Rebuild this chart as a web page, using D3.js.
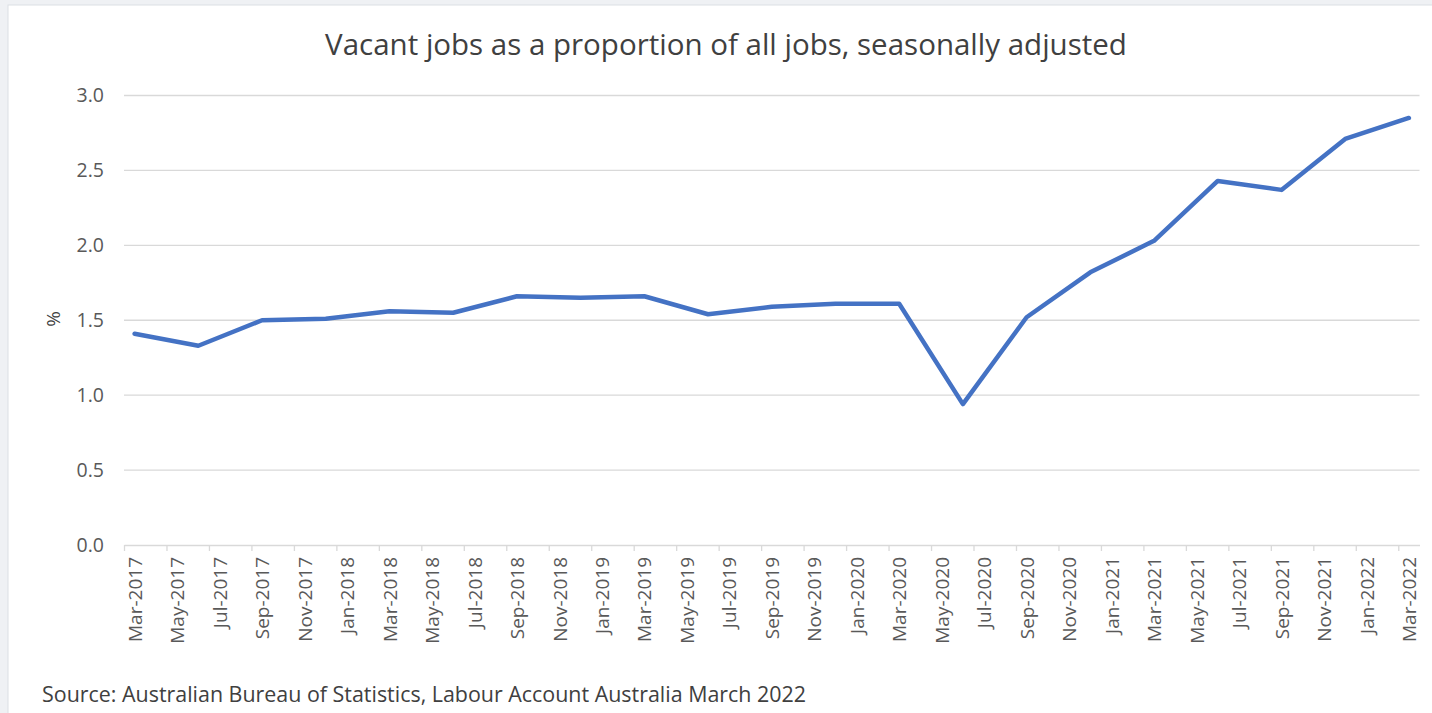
<!DOCTYPE html>
<html>
<head>
<meta charset="utf-8">
<script src="https://cdn.jsdelivr.net/npm/d3@7/dist/d3.min.js"></script>
<style>
  html, body { margin: 0; padding: 0; background: #eff1f4; }
  svg { display: block; }
</style>
</head>
<body>
<svg id="chart" width="1432" height="713"></svg>
<script>
// Quarterly observations (percent of all jobs that are vacant)
const quarters = ["Mar-2017","Jun-2017","Sep-2017","Dec-2017","Mar-2018","Jun-2018","Sep-2018","Dec-2018",
  "Mar-2019","Jun-2019","Sep-2019","Dec-2019","Mar-2020","Jun-2020","Sep-2020","Dec-2020",
  "Mar-2021","Jun-2021","Sep-2021","Dec-2021","Mar-2022"];
const vacancyRate = [1.41, 1.33, 1.50, 1.51, 1.56, 1.55, 1.66, 1.65,
  1.66, 1.54, 1.59, 1.61, 1.61, 0.94, 1.52, 1.82,
  2.03, 2.43, 2.37, 2.71, 2.85];

// Axis labels every second month
const monthLabels = ["Mar-2017","May-2017","Jul-2017","Sep-2017","Nov-2017","Jan-2018","Mar-2018","May-2018",
  "Jul-2018","Sep-2018","Nov-2018","Jan-2019","Mar-2019","May-2019","Jul-2019","Sep-2019","Nov-2019",
  "Jan-2020","Mar-2020","May-2020","Jul-2020","Sep-2020","Nov-2020","Jan-2021","Mar-2021","May-2021",
  "Jul-2021","Sep-2021","Nov-2021","Jan-2022","Mar-2022"];
const yTicks = [0, 0.5, 1.0, 1.5, 2.0, 2.5, 3.0];

const titleText = "Vacant jobs as a proportion of all jobs, seasonally adjusted";
const sourceText = "Source: Australian Bureau of Statistics, Labour Account Australia March 2022";

const monNames = ["Jan","Feb","Mar","Apr","May","Jun","Jul","Aug","Sep","Oct","Nov","Dec"];
// month offset from Mar-2017
function monthIndex(lbl) {
  const [m, y] = lbl.split("-");
  return (+y - 2017) * 12 + monNames.indexOf(m) - 2;
}
const totalMonths = monthIndex("Mar-2022") + 1;

const svg = d3.select("#chart");
const font = "'Open Sans', 'Noto Sans', sans-serif";
const textColor = "#595959";

// chart panel
svg.append("rect").attr("x", 8).attr("y", 5).attr("width", 1440).attr("height", 720)
  .attr("fill", "#ffffff").attr("stroke", "#dcdfe3").attr("stroke-width", 1);

const plot = { left: 124, right: 1419.5, top: 95.5, bottom: 545 };

const x = d3.scaleLinear().domain([0, totalMonths]).range([plot.left, plot.right]);
const y = d3.scaleLinear().domain([0, 3]).range([plot.bottom, plot.top]);

// horizontal gridlines
svg.append("g")
  .selectAll("line").data(yTicks.filter(d => d > 0)).join("line")
  .attr("x1", plot.left).attr("x2", plot.right)
  .attr("y1", d => y(d)).attr("y2", d => y(d))
  .attr("stroke", "#d9d9d9").attr("stroke-width", 1.3);

// y axis labels
const yAxis = d3.axisLeft(y).tickValues(yTicks).tickFormat(d3.format(".1f")).tickSize(0).tickPadding(20);
const gy = svg.append("g").attr("transform", `translate(${plot.left},0)`).call(yAxis);
gy.select(".domain").remove();
gy.selectAll("text").attr("font-family", font).attr("font-size", 19.5).attr("fill", textColor);

// x axis: ticks at month boundaries, labels centred on each month
const tickIdx = monthLabels.map(monthIndex);
const xAxis = d3.axisBottom(x).tickValues(tickIdx).tickFormat("").tickSize(6).tickSizeOuter(0);
const gx = svg.append("g").attr("transform", `translate(0,${plot.bottom})`).call(xAxis);
gx.select(".domain").attr("stroke", "#d9d9d9").attr("stroke-width", 1.3);
gx.selectAll(".tick line").attr("stroke", "#d9d9d9").attr("stroke-width", 1.3);

const xLab = d3.axisBottom(x).tickValues(tickIdx.map(i => i + 0.5))
  .tickFormat((d, i) => monthLabels[i]).tickSize(0);
const gl = svg.append("g").attr("transform", `translate(0,${plot.bottom})`).call(xLab);
gl.select(".domain").remove();
gl.selectAll("text")
  .attr("font-family", font).attr("font-size", 19).attr("fill", textColor)
  .attr("transform", "rotate(-90)")
  .attr("text-anchor", "end")
  .attr("dy", "0.35em")
  .attr("x", -12).attr("y", 0);

// data line
const line = d3.line()
  .x((d, i) => x(monthIndex(quarters[i]) + 0.5))
  .y(d => y(d));
svg.append("path").datum(vacancyRate)
  .attr("d", line)
  .attr("fill", "none").attr("stroke", "#4472c4").attr("stroke-width", 4.5)
  .attr("stroke-linejoin", "round").attr("stroke-linecap", "round");

// title
svg.append("text").attr("x", 726).attr("y", 55).attr("text-anchor", "middle")
  .attr("font-family", font).attr("font-size", 29.5).attr("fill", "#404040").text(titleText);

// y axis title
svg.append("text").attr("transform", "translate(60,319) rotate(-90)").attr("text-anchor", "middle")
  .attr("font-family", font).attr("font-size", 19).attr("fill", "#404040").text("%");

// source note
svg.append("text").attr("x", 42).attr("y", 702)
  .attr("font-family", "'Liberation Sans Narrow', 'Open Sans', sans-serif").attr("font-size", 22)
  .attr("fill", "#404040").attr("textLength", 764).attr("lengthAdjust", "spacingAndGlyphs")
  .text(sourceText);
</script>
</body>
</html>
